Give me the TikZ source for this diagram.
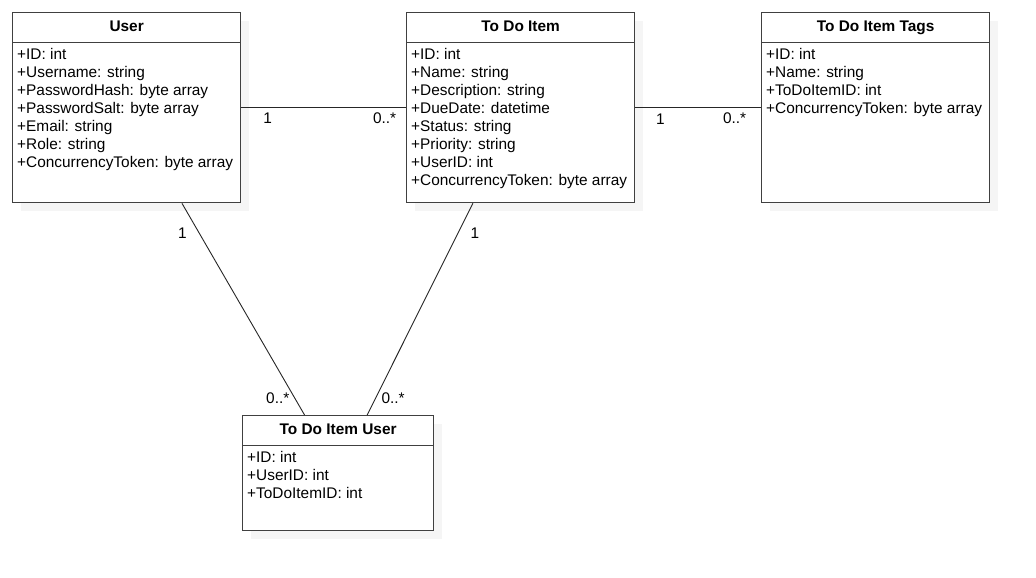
\documentclass[tikz,border=0pt]{standalone}
\usepackage{fontspec}
\setmainfont{Liberation Sans}
\usetikzlibrary{positioning,shadows}

\begin{document}
\begin{tikzpicture}[x=1pt,y=-1pt,
    every node/.style={font=\fontsize{15.4}{18}\selectfont},
    classbox/.style={draw=black!75,line width=1.3pt,fill=white,
      minimum width=228pt,minimum height=190pt,inner sep=0pt,
      general shadow={fill=black!4,shadow xshift=8pt,shadow yshift=-8pt}},
    classname/.style={font=\bfseries\fontsize{15.4}{18}\selectfont,
      minimum height=30pt,inner sep=0pt,text height=11.5pt,text depth=2.5pt,
      anchor=north},
    classline/.style={draw=black!75,line width=1.3pt},
    attrs/.style={align=left,inner sep=0pt,anchor=north west},
    mult/.style={inner sep=0pt},
    assoc/.style={draw=black!85,line width=0.9pt}]

\useasboundingbox (0,0) rectangle (1036,578);

% classes
\node[classbox,anchor=north west] (user) at (12,12) {};
\node[classbox,right=164.7pt of user] (item) {};
\node[classbox,right=125.7pt of item] (tags) {};
\node[classbox,anchor=north west,minimum width=191pt,minimum height=115pt] (itemuser) at (242,415) {};

\node[classname] (userhead) at (user.north) {User};
\node[classname] (itemhead) at (item.north) {To Do Item};
\node[classname] (tagshead) at (tags.north) {To Do Item Tags};
\node[classname] (itemuserhead) at (itemuser.north) {To Do Item User};

\foreach \cls in {user,item,tags,itemuser}
  \draw[classline] (\cls head.south -| \cls.west) -- (\cls head.south -| \cls.east);

\node[attrs] (userattrs) at ([xshift=5pt,yshift=-36pt]user.north west)
  {+ID: int\\+Username: string\\+PasswordHash: byte array\\+PasswordSalt: byte array\\
   +Email: string\\+Role: string\\+ConcurrencyToken: byte array};
\node[attrs] (itemattrs) at ([xshift=5pt,yshift=-36pt]item.north west)
  {+ID: int\\+Name: string\\+Description: string\\+DueDate: datetime\\
   +Status: string\\+Priority: string\\+UserID: int\\+ConcurrencyToken: byte array};
\node[attrs] (tagsattrs) at ([xshift=5pt,yshift=-36pt]tags.north west)
  {+ID: int\\+Name: string\\+ToDoItemID: int\\+ConcurrencyToken: byte array};
\node[attrs] (itemuserattrs) at ([xshift=5pt,yshift=-36pt]itemuser.north west)
  {+ID: int\\+UserID: int\\+ToDoItemID: int};

% associations
\draw[assoc] (user) -- node[mult,pos=.16,below=5pt] {1} node[mult,pos=.87,below=5pt] {0..*} (item);
\draw[assoc] (item) -- node[mult,pos=.2,below=6pt] {1} node[mult,pos=.79,below=5pt] {0..*} (tags);
\draw[assoc] (user) -- node[mult,pos=.14,left=12pt] {1} node[mult,pos=.92,left=5pt] {0..*} (itemuser);
\draw[assoc] (item) -- node[mult,pos=.14,right=12pt] {1} node[mult,pos=.92,right=5.5pt] {0..*} (itemuser);

\end{tikzpicture}
\end{document}
